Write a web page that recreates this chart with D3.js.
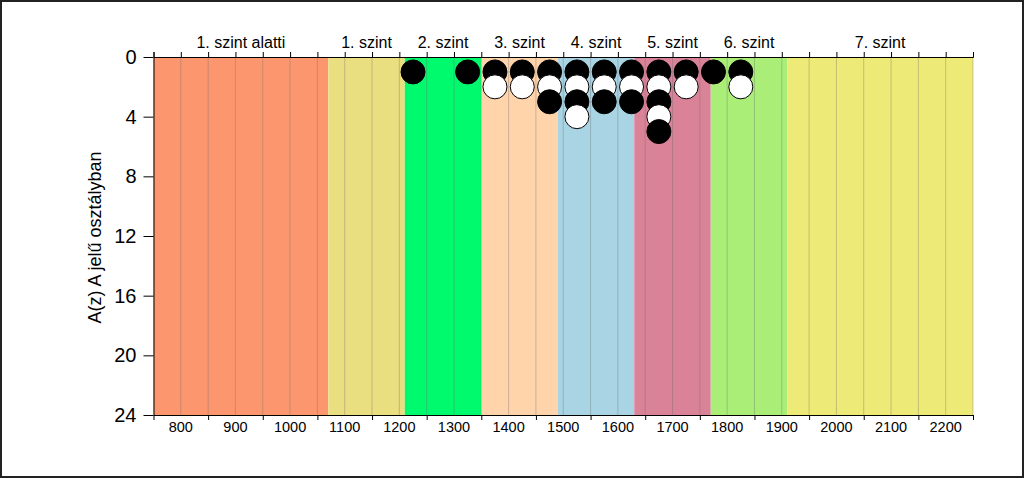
<!DOCTYPE html>
<html><head><meta charset="utf-8">
<script src="https://cdn.jsdelivr.net/npm/d3@7"></script>
<style>body{margin:0;background:#fff;}svg{display:block;font-family:"Liberation Sans",Arial,sans-serif;}</style>
</head><body>
<svg id="c" width="1024" height="478"></svg>
<script>
const bandNames = ["1. szint alatti","1. szint","2. szint","3. szint","4. szint","5. szint","6. szint","7. szint"];
const bandStarts = [750,1070,1210,1350,1490,1630,1770,1910];
const bandEnds = [1070,1210,1350,1490,1630,1770,1910,2250];
const bandColors = ["#FC966E","#E9DE80","#00FA6E","#FFD4AB","#A8D4E4","#DA8298","#AAEE77","#EEEA77"];
const dotX = [1225,1325,1375,1425,1475,1525,1575,1625,1675,1725,1775,1825];
const dotCounts = [1,1,2,2,3,4,3,3,5,2,1,2];
const xLabels = [800,900,1000,1100,1200,1300,1400,1500,1600,1700,1800,1900,2000,2100,2200];
const yTicks = [0,4,8,12,16,20,24];

const svg = d3.select("#c");
const L=153.5, R=973, T=57, B=415;
const x = d3.scaleLinear().domain([750,2250]).range([L,R]);
const y = d3.scaleLinear().domain([0,24]).range([T,B]);

svg.append("rect").attr("x",1).attr("y",1).attr("width",1022).attr("height",476)
  .attr("fill","#fff").attr("stroke","#222").attr("stroke-width",2);

// bands
svg.append("g").selectAll("rect").data(bandNames).join("rect")
  .attr("x",(d,i)=>x(bandStarts[i])).attr("width",(d,i)=>x(bandEnds[i])-x(bandStarts[i]))
  .attr("y",T).attr("height",B-T).attr("fill",(d,i)=>bandColors[i]);

// grid lines every 50
const grid = d3.range(800,2251,50);
svg.append("g").selectAll("line").data(grid).join("line")
  .attr("x1",d=>x(d)).attr("x2",d=>x(d)).attr("y1",T).attr("y2",B)
  .attr("stroke","rgba(110,110,110,0.35)").attr("stroke-width",1);

// band labels
svg.append("g").selectAll("text").data(bandNames).join("text")
  .attr("x",(d,i)=>x((bandStarts[i]+bandEnds[i])/2)).attr("y",48)
  .attr("text-anchor","middle").attr("font-size",16).attr("fill","#000").text(d=>d);

// top axis
const topAx = svg.append("g").attr("transform",`translate(0,${T})`)
  .call(d3.axisTop(x).tickValues(d3.range(750,2251,50)).tickSize(5).tickFormat(""));
topAx.select(".domain").attr("stroke","#000");
topAx.selectAll(".tick line").attr("stroke","#000");

// bottom axis
const botAx = svg.append("g").attr("transform",`translate(0,${B})`)
  .call(d3.axisBottom(x).tickValues(d3.range(750,2251,100)).tickSize(5).tickFormat("").tickSizeOuter(0));
botAx.select(".domain").attr("stroke","#000");
botAx.selectAll(".tick line").attr("stroke","#000");
svg.append("g").selectAll("text").data(xLabels).join("text")
  .attr("x",d=>x(d)).attr("y",432).attr("text-anchor","middle").attr("font-size",14.5).attr("fill","#000").text(d=>d);

// left axis
const leftAx = svg.append("g").attr("transform",`translate(${L},0)`)
  .call(d3.axisLeft(y).tickValues(yTicks).tickSize(10).tickPadding(7).tickSizeOuter(0));
leftAx.select(".domain").attr("stroke","#000");
leftAx.selectAll(".tick line").attr("stroke","#000");
leftAx.selectAll(".tick text").attr("font-size",20).attr("fill","#000").attr("font-family","Liberation Sans, Arial, sans-serif");

svg.append("text").attr("transform","translate(101,237.5) rotate(-90)")
  .attr("text-anchor","middle").attr("font-size",18).attr("fill","#000").text("A(z) A jelű osztályban");

// dots
const dots = [];
dotX.forEach((v,i)=>{ for(let k=1;k<=dotCounts[i];k++) dots.push({x:v,k}); });
dots.sort((a,b)=>a.k-b.k);
svg.append("g").selectAll("circle").data(dots).join("circle")
  .attr("cx",d=>x(d.x)).attr("cy",d=>y(d.k)).attr("r",12)
  .attr("fill",d=>d.k%2===1?"#000":"#fff").attr("stroke","#000").attr("stroke-width",1);
</script>
</body></html>
